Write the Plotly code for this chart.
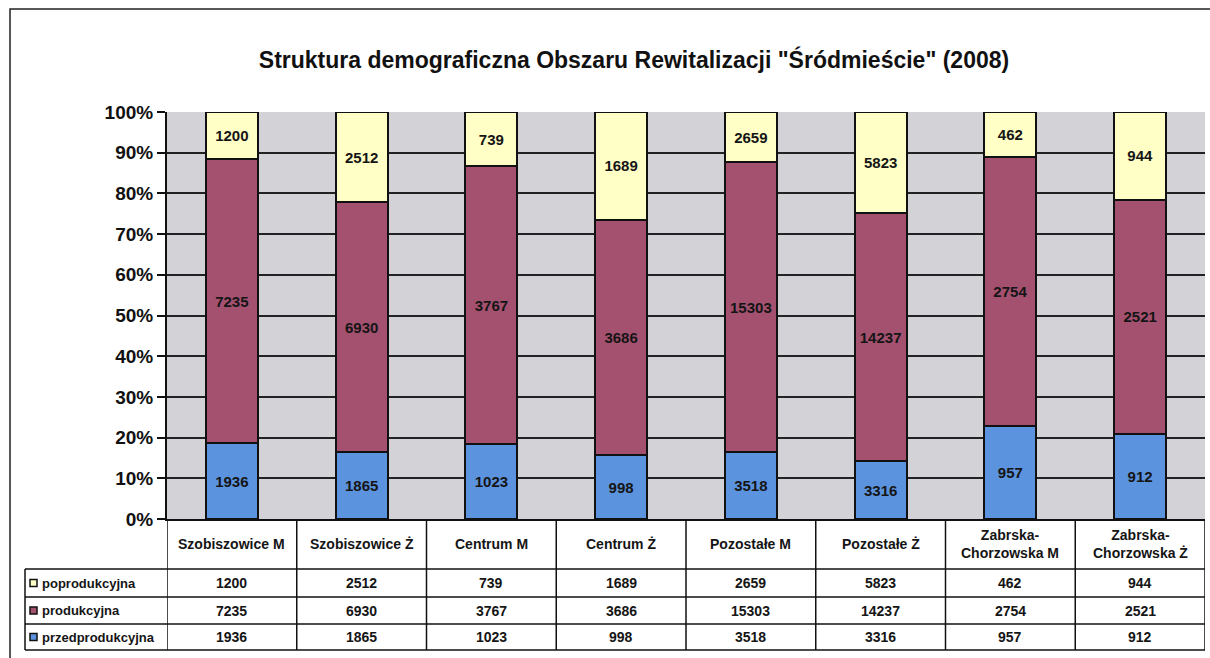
import plotly.graph_objects as go

# ---- data ----
categories = ["Szobiszowice M", "Szobiszowice Ż", "Centrum M", "Centrum Ż",
              "Pozostałe M", "Pozostałe Ż", "Zabrska-Chorzowska M", "Zabrska-Chorzowska Ż"]
header_labels = ["Szobiszowice M", "Szobiszowice Ż", "Centrum M", "Centrum Ż",
                 "Pozostałe M", "Pozostałe Ż", "Zabrska-<br>Chorzowska M", "Zabrska-<br>Chorzowska Ż"]
przedprodukcyjna = [1936, 1865, 1023, 998, 3518, 3316, 957, 912]
produkcyjna = [7235, 6930, 3767, 3686, 15303, 14237, 2754, 2521]
poprodukcyjna = [1200, 2512, 739, 1689, 2659, 5823, 462, 944]
y_ticks = [0, 10, 20, 30, 40, 50, 60, 70, 80, 90, 100]

series = [
    ("przedprodukcyjna", przedprodukcyjna, "#5b93de"),
    ("produkcyjna", produkcyjna, "#a4506f"),
    ("poprodukcyjna", poprodukcyjna, "#ffffc6"),
]

FONT = "Arial, Liberation Sans, sans-serif"
INK = "#151515"

# plot area in pixels: x 167..1205, y 112..519 (figure 1210x658)
L, R, T, B = 167, 1205, 112, 519


def px(x):
    return (x - L) / (R - L)


def py(y):
    return (B - y) / (B - T)


fig = go.Figure()
for name, vals, color in series:
    fig.add_trace(go.Bar(
        x=list(range(len(categories))), y=vals, name=name,
        marker=dict(color=color, line=dict(color="#111111", width=2)),
        text=[f"<b>{v}</b>" for v in vals], textposition="inside",
        insidetextanchor="middle", textangle=0,
        textfont=dict(family=FONT, size=15, color=INK),
        hovertext=categories, showlegend=False,
    ))

# ---- data table under the chart ----
row_lines = [569, 597, 624, 650]
row_centres = [583, 610.5, 637]
table_rows = [("poprodukcyjna", poprodukcyjna, "#ffffc6"),
              ("produkcyjna", produkcyjna, "#a4506f"),
              ("przedprodukcyjna", przedprodukcyjna, "#5b93de")]

shapes = []
line = dict(color="#111111", width=1.5)
for y in row_lines:
    shapes.append(dict(type="line", xref="paper", yref="paper",
                       x0=px(25), x1=1, y0=py(y), y1=py(y), line=line))
for i in range(len(categories) + 1):
    shapes.append(dict(type="line", xref="x", yref="paper",
                       x0=i - 0.5, x1=i - 0.5, y0=0, y1=py(650), line=line))
shapes.append(dict(type="line", xref="paper", yref="paper",
                   x0=px(25), x1=px(25), y0=py(569), y1=py(650), line=line))
# outer frame
shapes.append(dict(type="rect", xref="paper", yref="paper",
                   x0=px(10), x1=px(1230), y0=py(700), y1=py(9),
                   line=dict(color="#222222", width=1.5)))

annotations = []
for i, lab in enumerate(header_labels):
    annotations.append(dict(x=i, xref="x", y=py(544), yref="paper", yanchor="middle",
                            text=f"<b>{lab}</b>", showarrow=False,
                            font=dict(family=FONT, size=14, color=INK)))
for (name, vals, color), yc in zip(table_rows, row_centres):
    shapes.append(dict(type="rect", xref="paper", yref="paper",
                       x0=px(30), x1=px(37), y0=py(yc + 3.5), y1=py(yc - 3.5),
                       fillcolor=color, line=dict(color="#111111", width=1.5)))
    annotations.append(dict(x=px(40), xref="paper", xanchor="left", y=py(yc), yref="paper",
                            yanchor="middle", text=f"<b>{name}</b>", showarrow=False,
                            font=dict(family=FONT, size=13, color=INK)))
    for i, v in enumerate(vals):
        annotations.append(dict(x=i, xref="x", y=py(yc), yref="paper", yanchor="middle",
                                text=f"<b>{v}</b>", showarrow=False,
                                font=dict(family=FONT, size=14, color=INK)))

fig.update_layout(
    width=1210, height=658,
    margin=dict(l=L, r=1210 - R, t=T, b=658 - B),
    barmode="stack", barnorm="percent", bargap=0.6,
    paper_bgcolor="white", plot_bgcolor="#d2d2d7",
    title=dict(text="<b>Struktura demograficzna Obszaru Rewitalizacji \"Śródmieście\" (2008)</b>",
               x=634 / 1210, xanchor="center", y=1 - 60 / 658, yanchor="middle",
               font=dict(family=FONT, size=23, color="#111111")),
    xaxis=dict(range=[-0.5, len(categories) - 0.5], showticklabels=False, showgrid=False,
               zeroline=False, showline=True, linecolor="#111111", linewidth=2, ticks=""),
    yaxis=dict(range=[0, 100], tickvals=y_ticks, ticktext=[f"<b>{v}%</b>" for v in y_ticks],
               showgrid=True, gridcolor="#222222", gridwidth=1.5, zeroline=False,
               showline=True, linecolor="#111111", linewidth=2,
               ticks="outside", ticklen=8, tickcolor="#111111", tickwidth=1.5,
               tickfont=dict(family=FONT, size=19, color="#111111")),
    shapes=shapes, annotations=annotations,
)

fig.write_html("out.html", config={"displayModeBar": False},
               post_script="document.body.style.margin='0';")
